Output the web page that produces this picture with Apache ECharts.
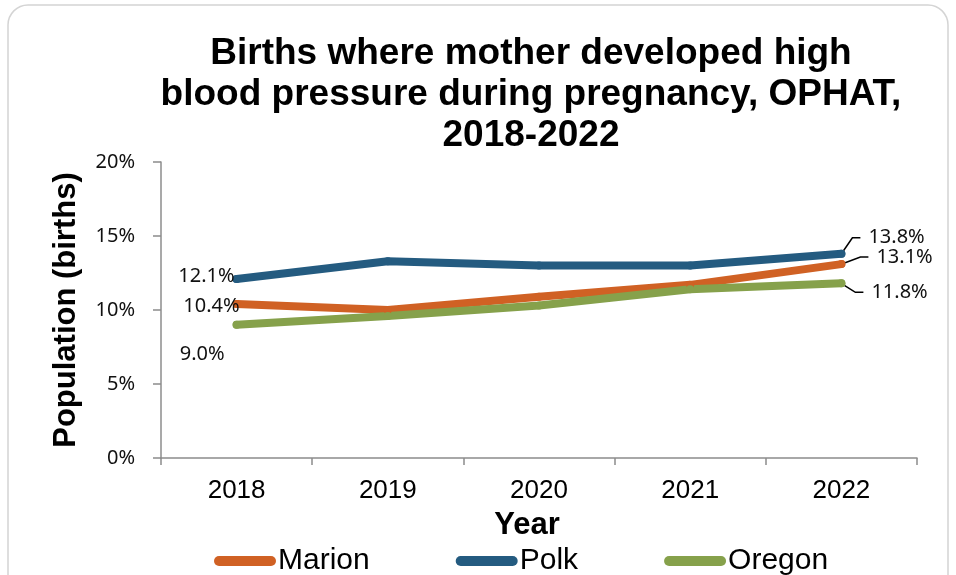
<!DOCTYPE html>
<html>
<head>
<meta charset="utf-8">
<script src="https://cdn.jsdelivr.net/npm/echarts@6/dist/echarts.min.js"></script>
<style>
html,body{margin:0;padding:0;background:#fff;}
#main{width:956px;height:575px;}
</style>
</head>
<body>
<div id="main"></div>
<script>
const years = ['2018', '2019', '2020', '2021', '2022'];
const marion = [10.4, 10.0, 10.9, 11.7, 13.1];
const polk = [12.1, 13.3, 13.0, 13.0, 13.8];
const oregon = [9.0, 9.6, 10.3, 11.4, 11.8];
const yTicks = [0, 5, 10, 15, 20];

const labelFont = "'Noto Sans', 'DejaVu Sans', sans-serif";
const arial = "'Liberation Sans', Arial, sans-serif";

// label offsets (dx, dy) for first and last points
const offsets = {
  Marion: [[12, 2], [18, -7]],
  Polk: [[7, -3], [10, -16]],
  Oregon: [[-3, 29], [13, 9]]
};

function buildData(vals) {
  return vals.map((v, i) => {
    const last = i === vals.length - 1;
    const edge = i === 0 || last;
    return {
      value: v,
      label: {
        show: edge,
        position: i === 0 ? 'left' : 'right',
        formatter: last
          ? (p => '{g|}{v|' + p.value.toFixed(1) + '%}')
          : (p => '{v|' + p.value.toFixed(1) + '%}')
      },
      labelLine: { show: last }
    };
  });
}

function makeSeries(name, vals, color) {
  return {
    name: name,
    type: 'line',
    data: buildData(vals),
    showSymbol: true,
    symbol: 'circle',
    symbolSize: 8,
    lineStyle: { color: color, width: 8, cap: 'round', join: 'round' },
    itemStyle: { color: color, borderWidth: 0 },
    label: {
      show: false,
      fontFamily: labelFont,
      fontSize: 20,
      color: '#111',
      rich: {
        g: { width: 8 },
        v: { fontFamily: labelFont, fontSize: 20, color: '#111' }
      }
    },
    labelLine: {
      show: false,
      length2: 8,
      lineStyle: { color: '#000', width: 1.5 }
    },
    labelLayout: function (params) {
      const o = offsets[name][params.dataIndex === 0 ? 0 : 1];
      return { dx: o[0], dy: o[1] };
    },
    emphasis: { disabled: true }
  };
}

const chart = echarts.init(document.getElementById('main'), null, { renderer: 'canvas' });
chart.setOption({
  backgroundColor: '#fff',
  animation: false,
  graphic: [{
    type: 'rect',
    shape: { x: 8, y: 5, width: 940, height: 600, r: 20 },
    style: { fill: 'none', stroke: '#d4d4d4', lineWidth: 1.5 },
    silent: true,
    z: -1
  }],
  title: {
    text: 'Births where mother developed high\nblood pressure during pregnancy, OPHAT,\n2018-2022',
    left: 526,
    textAlign: 'center',
    top: 28,
    textStyle: {
      fontFamily: arial,
      fontWeight: 'bold',
      fontSize: 37,
      lineHeight: 41,
      color: '#000'
    }
  },
  legend: {
    left: 209,
    top: 541,
    itemWidth: 62,
    itemHeight: 10,
    itemGap: 86,
    icon: 'path://M5,0 H57 A5,5 0 0 1 57,10 H5 A5,5 0 0 1 5,0 Z',
    textStyle: {
      fontFamily: arial,
      fontSize: 30,
      color: '#000',
      padding: [0, 0, 0, -3]
    },
    data: ['Marion', 'Polk', 'Oregon']
  },
  grid: { left: 161, right: 39, top: 162, bottom: 117, containLabel: false },
  xAxis: {
    type: 'category',
    data: years,
    boundaryGap: true,
    name: 'Year',
    nameLocation: 'middle',
    nameGap: 52,
    nameTextStyle: {
      fontFamily: arial,
      fontWeight: 'bold',
      fontSize: 31,
      color: '#000',
      padding: [0, 24, 0, 0]
    },
    axisLine: { lineStyle: { color: '#8c8c8c', width: 1.5 } },
    axisTick: { show: true, length: 7, alignWithLabel: false, lineStyle: { color: '#8c8c8c', width: 1.5 } },
    axisLabel: {
      fontFamily: arial,
      fontSize: 26,
      color: '#000',
      margin: 20
    },
    splitLine: { show: false }
  },
  yAxis: {
    type: 'value',
    min: yTicks[0],
    max: yTicks[yTicks.length - 1],
    interval: 5,
    name: 'Population (births)',
    nameLocation: 'middle',
    nameGap: 69,
    nameTextStyle: {
      fontFamily: arial,
      fontWeight: 'bold',
      fontSize: 31,
      color: '#000',
      padding: [0, 0, 10, 0]
    },
    axisLine: { show: true, lineStyle: { color: '#8c8c8c', width: 1.5 } },
    axisTick: { show: true, length: 8, lineStyle: { color: '#8c8c8c', width: 1.5 } },
    axisLabel: {
      fontFamily: labelFont,
      fontSize: 20,
      color: '#111',
      margin: 26,
      formatter: v => v + '%'
    },
    splitLine: { show: false }
  },
  series: [
    makeSeries('Marion', marion, '#D06124'),
    makeSeries('Polk', polk, '#245B80'),
    makeSeries('Oregon', oregon, '#86A14B')
  ]
});
</script>
</body>
</html>
